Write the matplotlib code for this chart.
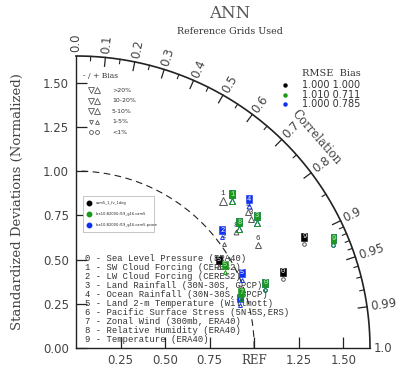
import numpy as np
import matplotlib
matplotlib.use("Agg")
import matplotlib.pyplot as plt
from matplotlib.patches import Rectangle

# ---------------- data ----------------
var_labels = [
    "0 - Sea Level Pressure (ERA40)",
    "1 - SW Cloud Forcing (CERES2)",
    "2 - LW Cloud Forcing (CERES2)",
    "3 - Land Rainfall (30N-30S, GPCP)",
    "4 - Ocean Rainfall (30N-30S, GPCP)",
    "5 - Land 2-m Temperature (Willmott)",
    "6 - Pacific Surface Stress (5N-5S,ERS)",
    "7 - Zonal Wind (300mb, ERA40)",
    "8 - Relative Humidity (ERA40)",
    "9 - Temperature (ERA40)",
]
case_names = ["cam5_1_fv_1deg", "b.e10.B2000.f19_g16.cam5", "b.e10.B2000.f19_g16.cam5.pcore"]
case_colors = ["black", "#1a9a1a", "#1030f0"]
rmse_vals = ["1.000", "1.010", "1.000"]
bias_vals = ["1.000", "0.711", "0.785"]

# normalized std and correlation, per case (index = variable number)
std_case0 = [1.240, 1.200, 1.041, 1.248, 1.259, 0.945, 1.196, 0.978, 1.136, 1.426]
cor_case0 = [0.938, 0.688, 0.798, 0.788, 0.767, 0.850, 0.855, 0.942, 0.791, 0.898]
std_case1 = [1.124, 1.235, np.nan, 1.261, np.nan, 0.960, np.nan, 0.979, 1.160, 1.572]
cor_case1 = [0.945, 0.710, np.nan, 0.806, np.nan, 0.872, np.nan, 0.947, 0.790, 0.919]
std_case2 = [1.124, 1.235, 1.057, 1.261, 1.286, 1.025, np.nan, 0.963, 1.160, 1.572]
cor_case2 = [0.945, 0.710, 0.776, 0.806, 0.756, 0.910, np.nan, 0.956, 0.790, 0.919]
# bias in percent
bias_case0 = [0.5, 25.0, 3.0, 12.0, 15.0, 4.0, 12.0, 3.0, 8.0, 0.6]
bias_case1 = [0.4, 12.0, np.nan, 12.0, np.nan, 4.0, np.nan, 3.0, 12.0, 0.5]
bias_case2 = [0.4, 12.0, 3.0, 12.0, 8.0, 3.0, np.nan, 3.0, 12.0, 0.5]

bias_leg_labels = [">20%", "10-20%", "5-10%", "1-5%", "<1%"]

std_ticks = [0.0, 0.25, 0.5, 0.75, 1.0, 1.25, 1.5]
x_tick_vals = [0.25, 0.5, 0.75, 1.0, 1.25, 1.5]
x_tick_labels = ["0.25", "0.50", "0.75", "REF", "1.25", "1.50"]
cor_major = [0.0, 0.1, 0.2, 0.3, 0.4, 0.5, 0.6, 0.7, 0.8, 0.9, 0.95, 0.99, 1.0]
cor_minor = [0.05, 0.15, 0.25, 0.35, 0.45, 0.55, 0.65, 0.75, 0.85,
             0.91, 0.92, 0.93, 0.94, 0.96, 0.97, 0.98]

# ---------------- figure ----------------
RMAX = 1.65
fig = plt.figure(figsize=(4.02, 3.70), dpi=100)
ax = fig.add_axes([76 / 402, 22 / 370, 294 / 402, 292 / 370])
ax.set_xlim(0, RMAX)
ax.set_ylim(0, RMAX)
for s in ["top", "right"]:
    ax.spines[s].set_visible(False)
for s in ["left", "bottom"]:
    ax.spines[s].set_linewidth(1.0)
    ax.spines[s].set_color("#222222")

grey = "#444444"
ax.set_yticks(std_ticks)
ax.set_yticklabels(["%.2f" % v for v in std_ticks], fontsize=8.5, color=grey,
                   family="DejaVu Sans")
ax.set_xticks(x_tick_vals)
ax.set_xticklabels(x_tick_labels, fontsize=8.5, color=grey, family="DejaVu Serif")
for lab in ax.get_xticklabels():
    if lab.get_text() != "REF":
        lab.set_family("DejaVu Sans")
ax.tick_params(axis="both", direction="in", length=8, width=0.9, color="#222222", pad=5)
ax.tick_params(axis="x", pad=4)

ax.set_ylabel("Standardized Deviations (Normalized)", fontsize=9.5, color=grey,
              family="DejaVu Serif", labelpad=14)

# outer arc
th = np.linspace(0, np.pi / 2, 300)
ax.plot(RMAX * np.cos(th), RMAX * np.sin(th), color="#222222", lw=1.2, clip_on=False)
# reference arc (dashed)
ax.plot(np.cos(th), np.sin(th), color="#222222", lw=0.8, ls=(0, (6, 4)), clip_on=False)

# correlation ticks
for c in cor_major:
    a = np.arccos(c)
    if 0 < c < 1:
        ax.plot([RMAX * c, (RMAX - 0.05) * c],
                [RMAX * np.sin(a), (RMAX - 0.05) * np.sin(a)],
                color="#222222", lw=0.9, clip_on=False)
    rl = RMAX + 0.02
    ax.text(rl * c, rl * np.sin(a), "%g" % c if c not in (0.0, 1.0) else "%.1f" % c,
            rotation=np.degrees(a), rotation_mode="anchor", ha="left", va="center",
            fontsize=8.5, color=grey, family="DejaVu Sans")
for c in cor_minor:
    a = np.arccos(c)
    ax.plot([RMAX * c, (RMAX - 0.025) * c],
            [RMAX * np.sin(a), (RMAX - 0.025) * np.sin(a)],
            color="#222222", lw=0.8, clip_on=False)

ac = np.arccos(0.751)
ax.text(1.80 * np.cos(ac), 1.80 * np.sin(ac), "Correlation", rotation=-(90 - np.degrees(ac)),
        rotation_mode="anchor", ha="center", va="center", fontsize=8.5, color=grey,
        family="DejaVu Serif")

# titles
fig.text(230 / 402, 1 - 13 / 370, "ANN", ha="center", va="center", fontsize=12,
         color="#555555", family="DejaVu Serif")
fig.text(230 / 402, 1 - 32 / 370, "Reference Grids Used", ha="center", va="center",
         fontsize=6.8, color="#333333", family="DejaVu Serif")

# variable list
for i, t in enumerate(var_labels):
    ax.text(0.05, 0.503 - 0.0503 * i, t, ha="left", va="center", fontsize=6.4,
            color="#333333", family="Liberation Mono")

# ---------------- markers ----------------
def bias_marker(b):
    if np.isnan(b):
        return None
    ab = abs(b)
    if ab < 1:
        return "o", 2.6
    m = "^" if b > 0 else "v"
    if ab < 5:
        return m, 2.8
    if ab < 10:
        return m, 3.5
    if ab < 20:
        return m, 4.2
    return m, 5.2

cases = [(std_case0, cor_case0, bias_case0),
         (std_case2, cor_case2, bias_case2),
         (std_case1, cor_case1, bias_case1)]
color_order = [case_colors[0], case_colors[2], case_colors[1]]
black_boxed = {0, 5, 9}
dy = 0.040
for ci, (sd, cr, bs) in enumerate(cases):
    col = color_order[ci]
    for i in range(len(sd)):
        if np.isnan(sd[i]):
            continue
        a = np.arccos(cr[i])
        x, y = sd[i] * np.cos(a), sd[i] * np.sin(a)
        bm = bias_marker(bs[i])
        if bm is not None:
            ec = "#555555" if ci == 0 else col
            ax.plot(x, y - dy, marker=bm[0], ms=bm[1], mfc="none", mec=ec, mew=0.7,
                    zorder=5 + ci)
        if ci == 0 and i not in black_boxed:
            ax.text(x, y, str(i), ha="center", va="center", fontsize=5.5,
                    color="#333333", family="Liberation Mono", zorder=6 + ci)
        else:
            ax.text(x, y, str(i), ha="center", va="center", fontsize=5,
                    color="#cfe8cf" if ci == 2 else "white", family="Liberation Mono",
                    zorder=6 + ci,
                    bbox=dict(boxstyle="square,pad=0.1", fc=col, ec=col, lw=0.4))

# ---------------- bias legend ----------------
def fx(px):
    return (px - 76) / 178.2
def fy(py):
    return (348 - py) / 177.0

ax.text(fx(83), fy(76), "- / + Bias", ha="left", va="center", fontsize=5.5,
        color="#333333", family="DejaVu Serif")
leg_sizes = [5.0, 4.4, 3.8, 2.8, 2.8]
for k, lab in enumerate(bias_leg_labels):
    yy = fy(90 + 10.5 * k)
    if k < 4:
        ax.plot(fx(91), yy, marker="v", ms=leg_sizes[k], mfc="none", mec="#555555", mew=0.6)
        ax.plot(fx(97), yy, marker="^", ms=leg_sizes[k], mfc="none", mec="#555555", mew=0.6)
    else:
        ax.plot(fx(91), yy, marker="o", ms=2.8, mfc="none", mec="#555555", mew=0.6)
        ax.plot(fx(97), yy, marker="o", ms=2.8, mfc="none", mec="#555555", mew=0.6)
    ax.text(fx(112), yy, lab, ha="left", va="center", fontsize=4.5, color="#333333",
            family="DejaVu Sans")

# ---------------- RMSE / Bias legend ----------------
ax.text(fx(302), fy(73), "RMSE  Bias", ha="left", va="center", fontsize=7,
        color="#333333", family="DejaVu Serif", clip_on=False)
for k in range(3):
    yy = fy(85 + 9.6 * k)
    ax.plot(fx(285), yy, marker="o", ms=2.2, color=case_colors[k], clip_on=False)
    ax.text(fx(302), yy, rmse_vals[k] + " " + bias_vals[k], ha="left", va="center",
            fontsize=7, color="#333333", family="DejaVu Sans", clip_on=False)

# ---------------- case legend box ----------------
ax.add_patch(Rectangle((fx(83), fy(232)), fx(154) - fx(83), fy(196) - fy(232),
                       fc="white", ec="#bbbbbb", lw=0.6, zorder=4))
for k in range(3):
    yy = fy(203 + 11 * k)
    ax.plot(fx(89), yy, marker="o", ms=3.2, color=case_colors[k], zorder=5)
    ax.text(fx(96), yy, case_names[k], ha="left", va="center", fontsize=2.6,
            color="#222222", family="DejaVu Sans", zorder=5)

fig.savefig("out.png", dpi=100)
